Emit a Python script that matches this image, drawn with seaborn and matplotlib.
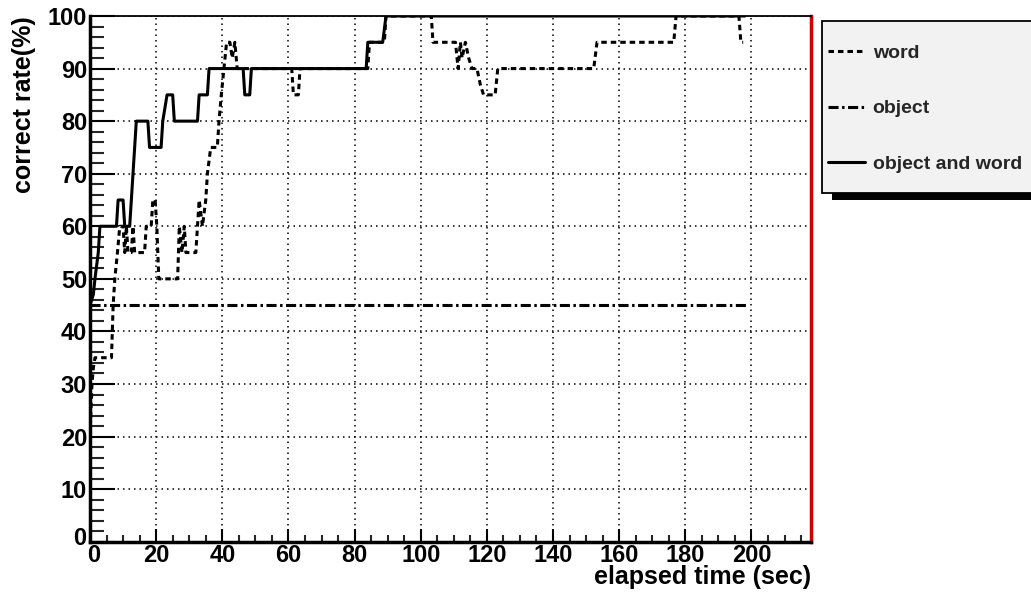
import matplotlib
matplotlib.use("Agg")
import matplotlib.pyplot as plt
import seaborn as sns
from matplotlib.ticker import MultipleLocator, FixedLocator
from matplotlib.patches import Rectangle
from matplotlib.transforms import ScaledTranslation

sns.set_theme(style="white")
plt.rcParams['font.family'] = ['Liberation Sans', 'DejaVu Sans']
plt.rcParams['font.weight'] = 'bold'

# ---- data ----
word_time = [0, 0.3, 0.6, 1, 1.5, 6.5, 7, 7.5, 8.3, 9, 10, 10.5, 11, 11.5, 12.5, 13, 13.5,
             16.5, 17, 18.5, 19, 19.7, 20.2, 20.8, 26.5, 27, 27.8, 28.5, 29, 32, 32.5, 33,
             34, 35, 35.5, 36.5, 38.5, 39, 39.7, 40.5, 41.3, 42.3, 43, 43.8, 44.5, 61, 61.5,
             63, 63.5, 84, 84.5, 89, 89.5, 103.2, 103.7, 110.5, 111.3, 112, 112.5, 113.5,
             114.5, 115.5, 117, 118, 119, 122.5, 123.3, 152.3, 153.3, 176.5, 177.2, 196.2,
             196.8, 197.5]
word_rate = [20, 25, 30, 33, 35, 35, 45, 50, 55, 60, 60, 55, 60, 55, 55, 60, 55,
             55, 60, 60, 65, 65, 60, 50, 50, 60, 55, 60, 55, 55, 60, 65,
             60, 65, 70, 75, 75, 80, 85, 90, 95, 95, 92, 95, 90, 90, 85,
             85, 90, 90, 95, 95, 100, 100, 95, 95, 90, 95, 92, 95,
             92, 90, 90, 87, 85, 85, 90, 90, 95, 95, 100, 100,
             95, 95]

object_time = [0, 199]
object_rate = [45, 45]

both_time = [0, 1, 1.5, 2.5, 3, 8, 8.5, 10, 10.5, 12, 12.5, 13, 13.5, 14, 17.5, 18, 21.5,
             22, 23.3, 25, 25.5, 32.5, 33, 35.5, 36, 46.3, 46.8, 48.3, 48.8, 83.5, 84,
             88.5, 89.5, 198]
both_rate = [45, 47, 50, 55, 60, 60, 65, 65, 60, 60, 65, 70, 75, 80, 80, 75, 75,
             80, 85, 85, 80, 80, 85, 85, 90, 90, 85, 85, 90, 90, 95,
             95, 100, 100]

series_labels = ["word", "object", "object and word"]
x_tick_values = [0, 20, 40, 60, 80, 100, 120, 140, 160, 180, 200]
y_tick_values = [0, 10, 20, 30, 40, 50, 60, 70, 80, 90, 100]

# ---- figure ----
W, H = 1031, 598
fig = plt.figure(figsize=(W / 100, H / 100), dpi=100)
fig.patch.set_facecolor('white')
ax = fig.add_axes([90 / W, 1 - 541.7 / H, (811 - 90) / W, (541.7 - 16) / H])
ax.set_facecolor('white')

lw = 2.2
sns.lineplot(x=word_time, y=word_rate, ax=ax, color='black', linewidth=lw,
             linestyle=(0, (1.8, 1.3)), estimator=None, sort=False,
             label=series_labels[0], legend=False)
sns.lineplot(x=object_time, y=object_rate, ax=ax, color='black', linewidth=lw,
             linestyle=(0, (3.3, 1.15, 0.8, 1.15)), estimator=None, sort=False,
             label=series_labels[1], legend=False)
sns.lineplot(x=both_time, y=both_rate, ax=ax, color='black', linewidth=lw,
             linestyle='-', estimator=None, sort=False,
             label=series_labels[2], legend=False)

ax.set_xlim(0, 218)
ax.set_ylim(0, 100)

ax.xaxis.set_major_locator(FixedLocator(x_tick_values))
ax.xaxis.set_minor_locator(MultipleLocator(5))
ax.yaxis.set_major_locator(FixedLocator(y_tick_values))
ax.yaxis.set_minor_locator(MultipleLocator(2))

ax.grid(True, which='major', color='black', linestyle=(0, (1, 2.6)), linewidth=1.1)
ax.set_axisbelow(True)

ax.tick_params(axis='y', which='major', direction='in', length=18, width=1.5,
               left=True, right=False, labelsize=17, pad=2, colors='black')
ax.tick_params(axis='y', which='minor', direction='in', length=10, width=1.5,
               left=True, right=False)
ax.tick_params(axis='x', which='major', direction='in', length=9.5, width=1.5,
               bottom=True, top=False, labelsize=17, pad=1.5, colors='black')
ax.tick_params(axis='x', which='minor', direction='in', length=5, width=1.5,
               bottom=True, top=False)
for lab in ax.get_xticklabels() + ax.get_yticklabels():
    lab.set_fontweight('bold')

# ROOT-like placement of the two "0" labels at the origin
ytick0 = ax.yaxis.get_major_ticks()[0]
ytick0.label1.set_transform(ytick0.label1.get_transform() +
                            ScaledTranslation(-1 / 72, 4 / 72, fig.dpi_scale_trans))
xtick0 = ax.xaxis.get_major_ticks()[0]
xtick0.label1.set_transform(xtick0.label1.get_transform() +
                            ScaledTranslation(3 / 72, 0, fig.dpi_scale_trans))

for s in ['left', 'bottom']:
    ax.spines[s].set_color('black')
    ax.spines[s].set_linewidth(2.5)
ax.spines['top'].set_color('black')
ax.spines['top'].set_linewidth(1.3)
ax.spines['right'].set_color('#d00000')
ax.spines['right'].set_linewidth(2.5)

ax.set_ylabel("correct rate(%)", fontsize=18, fontweight='bold', loc='top', color='black')
ax.yaxis.set_label_coords(-0.075, 1.0)
ax.set_xlabel("elapsed time (sec)", fontsize=18, fontweight='bold', loc='right', color='black')
ax.xaxis.set_label_coords(1.0, -0.045)

# ---- legend box with shadow ----
shadow = Rectangle((832 / W, 1 - 200 / H), 1.05 - 832 / W, (200 - 28) / H,
                   transform=fig.transFigure, facecolor='black', edgecolor='none', zorder=1)
box = Rectangle((822 / W, 1 - 193 / H), 1.05 - 822 / W, (193 - 21) / H,
                transform=fig.transFigure, facecolor='#f2f2f2', edgecolor='black',
                linewidth=1.3, zorder=2)
fig.add_artist(shadow)
fig.add_artist(box)

handles = ax.get_lines()[-3:]
leg = fig.legend(handles=handles, labels=series_labels, loc='upper left',
                 bbox_to_anchor=(828 / W, 1 - 44 / H), frameon=False,
                 handlelength=1.9, handletextpad=0.4, labelspacing=1.96,
                 borderpad=0, borderaxespad=0, prop={'weight': 'bold', 'size': 14})
leg.set_zorder(3)

fig.savefig("out.png", dpi=100, facecolor='white')
